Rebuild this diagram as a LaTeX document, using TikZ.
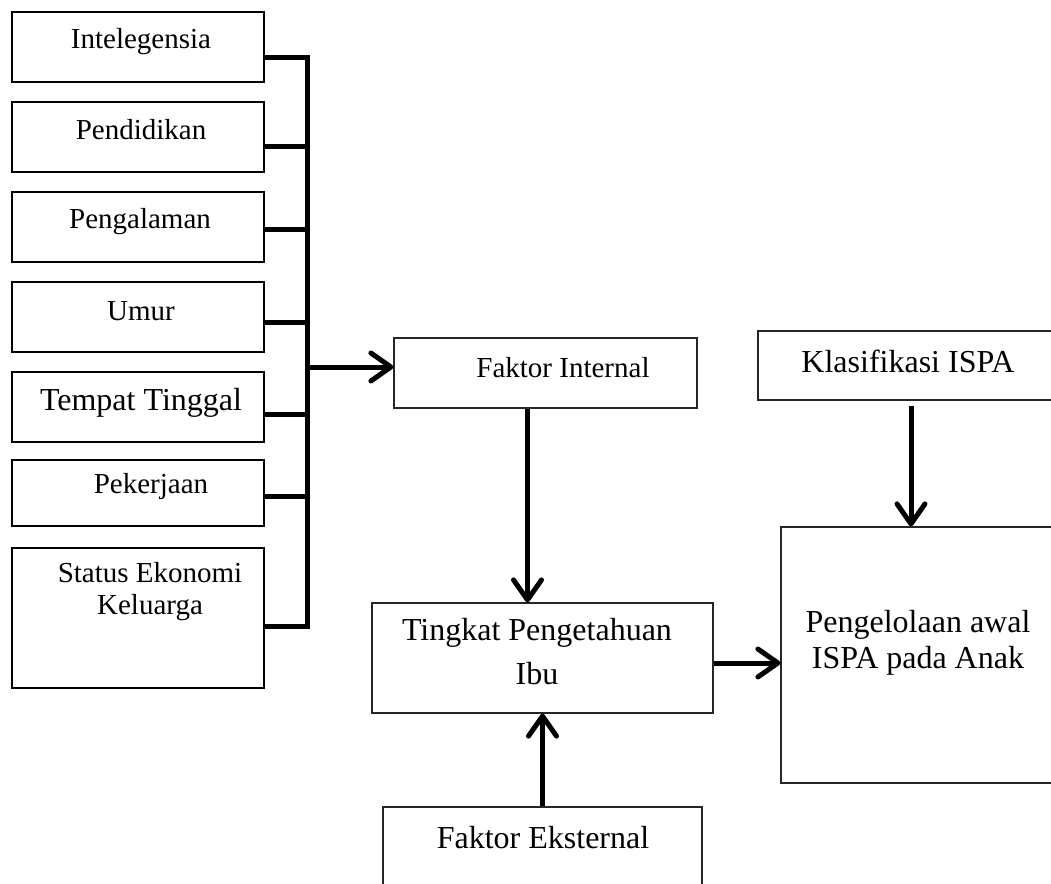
\documentclass[tikz,border=0pt]{standalone}
\usepackage{fontspec}
\setmainfont{Liberation Serif}
\usetikzlibrary{arrows.meta, calc, positioning}

\begin{document}
\begin{tikzpicture}[
    x=0.5pt, y=-0.5pt,
    lbox/.style={draw=black, line width=1pt, minimum width=126pt, inner sep=0pt},
    rbox/.style={draw=black!85, line width=0.6pt, inner sep=0pt},
    small/.style={font=\fontsize{14.5}{16}\selectfont, inner sep=0pt, anchor=base},
    big/.style={font=\fontsize{16}{18}\selectfont, inner sep=0pt, anchor=base},
    conn/.style={line width=2.5pt, black},
    arr/.style={conn, -{Straight Barb[length=10pt, width=14pt, round]}}
]
\useasboundingbox (0,0) rectangle (1051,884);
\clip (0,0) rectangle (1051,884);

% left column of factors
\node[lbox, minimum height=35pt] (intel) at (138,47) {};
\node[lbox, minimum height=35pt] (didik) at (138,137) {};
\node[lbox, minimum height=35pt] (alam) at (138,227) {};
\node[lbox, minimum height=35pt] (umur) at (138,317) {};
\node[lbox, minimum height=35pt] (tempat) at (138,407) {};
\node[lbox, minimum height=33pt] (kerja) at (138,493) {};
\node[lbox, minimum height=70pt] (ekon) at (138,618) {};

\node[small] (intel-t) at (141,48) {Intelegensia};
\node[small] (didik-t) at (141,139) {Pendidikan};
\node[small] (alam-t) at (140,228) {Pengalaman};
\node[small] (umur-t) at (141,320) {Umur};
\node[big] (tempat-t) at (141,410) {Tempat Tinggal};
\node[small] (kerja-t) at (151,493) {Pekerjaan};
\node[small, align=center, font=\fontsize{14.5}{16}\selectfont] (ekon-t) at (150,614) {Status Ekonomi\\Keluarga};

% right part
\node[rbox, minimum width=151.5pt, minimum height=35pt] (fint) at (545.5,373) {};
\node[rbox, minimum width=153pt, minimum height=34.5pt] (klas) at (911,365.5) {};
\node[rbox, minimum width=170.5pt, minimum height=55pt] (tingkat) at (542.5,658) {};
\node[rbox, minimum width=144.5pt, minimum height=128pt] (peng) at (925.5,655) {};
\node[rbox, minimum width=159.5pt, minimum height=46.5pt] (eks) at (542.5,853.5) {};

\node[small] (fint-t) at (563,377) {Faktor Internal};
\node[big] (klas-t) at (908,372) {Klasifikasi ISPA};
\node[big, align=center, font=\fontsize{16}{22}\selectfont] (tingkat-t) at (537,684) {Tingkat Pengetahuan\\Ibu};
\node[big, align=center, font=\fontsize{16}{18}\selectfont] (peng-t) at (918,668) {Pengelolaan awal\\ISPA pada Anak};
\node[big] (eks-t) at (543,848) {Faktor Eksternal};

% bus
\draw[conn] ($(intel.east)+(0,10)$) -| ($(ekon.east)+(42,8)$) -- ($(ekon.east)+(0,8)$);
\foreach \n/\d in {didik/9, alam/2, umur/5, tempat/7, kerja/3}
    \draw[conn] ($(\n.east)+(0,\d)$) -- ++(42,0);

% arrows
\coordinate (busout) at (306,367);
\draw[arr] (busout) -- (busout -| fint.west);
\coordinate (fdown) at ($(fint.south)+(-18,0)$);
\draw[arr] (fdown) -- (fdown |- tingkat.north);
\coordinate (kdown) at ($(klas.south)+(0,5)$);
\draw[arr] (kdown) -- (kdown |- peng.north);
\coordinate (tright) at ($(tingkat.east)+(0,5)$);
\draw[arr] (tright) -- (tright -| peng.west);
\draw[arr] (eks.north) -- (eks.north |- tingkat.south);
\end{tikzpicture}
\end{document}
